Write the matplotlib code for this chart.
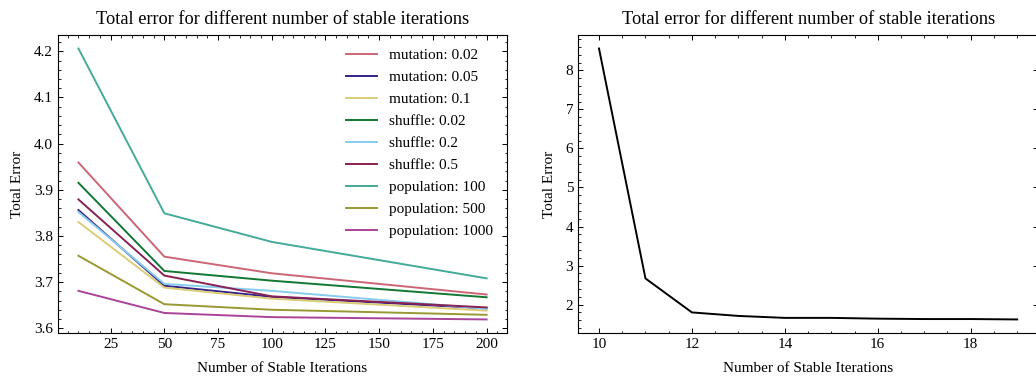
import matplotlib
matplotlib.use("Agg")
import matplotlib.pyplot as plt

# stable iteration counts used in the parameter sweep
iters = [10, 50, 100, 200]

labels = ["mutation: 0.02", "mutation: 0.05", "mutation: 0.1",
          "shuffle: 0.02", "shuffle: 0.2", "shuffle: 0.5",
          "population: 100", "population: 500", "population: 1000"]

mutation_002 = [3.959, 3.755, 3.719, 3.673]
mutation_005 = [3.856, 3.692, 3.668, 3.643]
mutation_01 = [3.830, 3.688, 3.664, 3.638]
shuffle_002 = [3.915, 3.724, 3.703, 3.667]
shuffle_02 = [3.852, 3.696, 3.681, 3.642]
shuffle_05 = [3.879, 3.714, 3.669, 3.645]
population_100 = [4.206, 3.849, 3.787, 3.708]
population_500 = [3.757, 3.652, 3.640, 3.629]
population_1000 = [3.681, 3.633, 3.624, 3.619]

series = [mutation_002, mutation_005, mutation_01,
          shuffle_002, shuffle_02, shuffle_05,
          population_100, population_500, population_1000]

colors = ["#CC6677", "#332288", "#DDCC77", "#117733", "#88CCEE",
          "#882255", "#44AA99", "#999933", "#AA4499"]

# second run: small numbers of stable iterations
iters_small = [10, 11, 12, 13, 14, 15, 16, 17, 18, 19]
error_small = [8.56, 2.67, 1.80, 1.71, 1.66, 1.66, 1.64, 1.63, 1.63, 1.62]

plt.rcParams["font.family"] = "serif"
plt.rcParams["font.serif"] = ["Liberation Serif", "DejaVu Serif"]
plt.rcParams["font.size"] = 11
plt.rcParams["mathtext.fontset"] = "stix"
plt.rcParams["axes.linewidth"] = 0.8
for ax_name in ["xtick", "ytick"]:
    plt.rcParams[ax_name + ".direction"] = "in"
    plt.rcParams[ax_name + ".major.size"] = 3.5
    plt.rcParams[ax_name + ".minor.size"] = 1.8
    plt.rcParams[ax_name + ".major.width"] = 0.7
    plt.rcParams[ax_name + ".minor.width"] = 0.6
    plt.rcParams[ax_name + ".minor.visible"] = True
plt.rcParams["xtick.top"] = True
plt.rcParams["ytick.right"] = True

fig = plt.figure(figsize=(10.36, 3.76), dpi=100)
ax1 = fig.add_axes([0.056, 0.1144, 0.4334, 0.7926])
ax2 = fig.add_axes([0.558, 0.1144, 0.444, 0.7926])

for vals, lab, c in zip(series, labels, colors):
    ax1.plot(iters, vals, color=c, label=lab, linewidth=1.4)
ax1.legend(frameon=False, loc="upper right", fontsize=11, labelspacing=0.54)
ax1.set_title("Total error for different number of stable iterations", pad=8)
ax1.set_xlabel("Number of Stable Iterations", labelpad=8)
ax1.set_ylabel("Total Error", labelpad=7)

ax2.plot(iters_small, error_small, color="black", linewidth=1.4)
ax2.set_title("Total error for different number of stable iterations", pad=8)
ax2.set_xlabel("Number of Stable Iterations", labelpad=8)
ax2.set_ylabel("Total Error", labelpad=7)

fig.savefig("out.png", dpi=100)
